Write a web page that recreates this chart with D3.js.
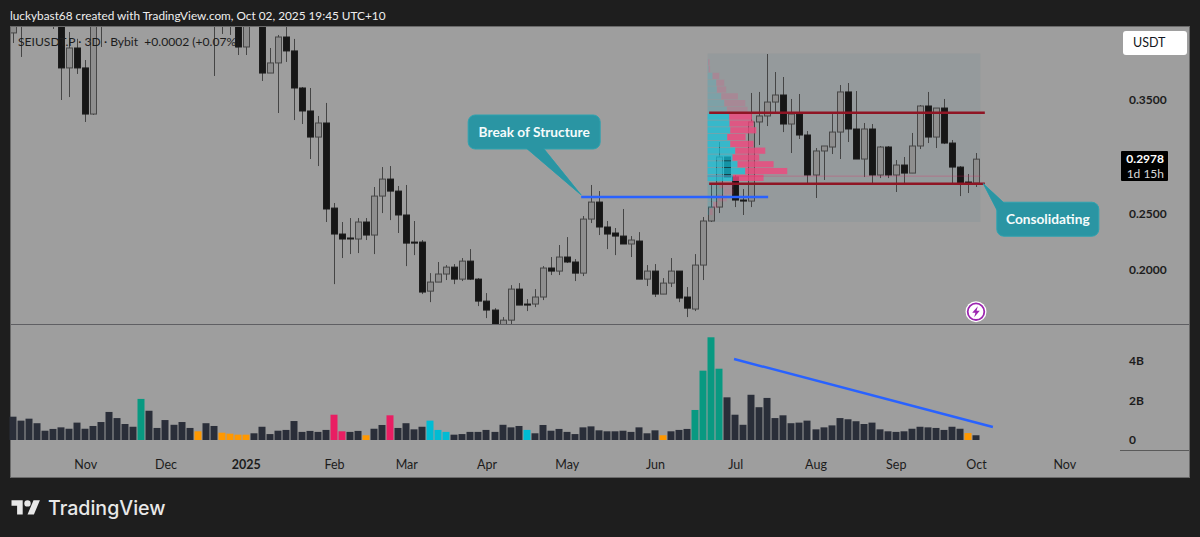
<!DOCTYPE html>
<html>
<head>
<meta charset="utf-8">
<script src="https://cdn.jsdelivr.net/npm/d3@7"></script>
<style>
html, body { margin: 0; padding: 0; background: #1e1e1e; }
svg { display: block; }
text { font-family: Lato, sans-serif; white-space: pre; }
</style>
</head>
<body>
<svg id="chart" width="1200" height="537"></svg>
<script>
// candles, one per 3 days. anything above the pane top is a guess, it gets clipped anyway
var opens = [.4092,.44,.43,.44,.43,.45,.44,.3783,.3959,.3783,
  .3376,.44,.47,.46,.47,.48,.47,.46,.47,.46,
  .47,.46,.45,.46,.45,.44,.44,.43,.43,.3968,
  .44,.43,.3738,.3827,.4056,.3933,.3606,.3403,.3173,.3297,
  .2546,.2317,.2282,.2273,.2423,.2308,.2652,.2802,.2696,.2485,
  .2246,.2246,.1813,.1893,.1964,.2025,.1919,.2078,.1919,.1725,
  .1646,.1504,.1557,.1831,.1699,.1699,.1761,.2017,.1990,.2114,
  .2070,.1972,.2449,.2599,.2379,.2326,.2299,.2229,.2255,.1919,
  .1990,.1787,.1884,.1990,.1761,.1655,.2043,.2432,.2555,.2997,
  .2820,.2617,.2608,.3306,.3359,.3482,.3544,.3288,.3376,.3191,
  .2838,.3050,.3085,.3217,.3571,.3244,.2979,.3244,.2838,.3085,
  .2838,.2926,.2855,.3094,.3447,.3173,.3429,.3120,.2908,.2776,.2767];
var closes = [.428,.425,.44,.43,.45,.44,.3783,.3959,.3783,.3376,
  .44,.46,.46,.47,.48,.47,.46,.47,.46,.47,
  .46,.45,.46,.45,.44,.43,.43,.44,.3968,.43,
  .43,.3738,.3827,.4056,.3933,.3606,.3403,.3173,.3297,.2538,
  .2317,.2273,.2276,.2423,.2308,.2652,.2802,.2696,.2485,.2237,
  .2237,.1805,.1893,.1964,.2025,.1919,.2078,.1919,.1725,.1646,
  .1487,.1557,.1831,.1690,.1690,.1761,.2017,.1990,.2114,.2070,
  .1972,.2449,.2599,.2379,.2317,.2299,.2229,.2264,.1919,.1990,
  .1787,.1884,.1990,.1752,.1663,.2043,.2432,.2555,.2997,.2820,
  .2617,.2608,.3306,.3359,.3482,.3544,.3288,.3376,.3191,.2838,
  .3050,.3094,.3217,.3571,.3244,.2979,.3244,.2838,.3085,.2838,
  .2926,.2855,.3094,.3447,.3173,.3429,.3120,.2908,.2767,.2758,.2978];
var highs = [.44,.45,.45,.45,.46,.47,.45,.41,.404,.3853,
  .45,.47,.48,.48,.49,.49,.48,.48,.48,.48,
  .48,.47,.47,.47,.46,.46,.45,.45,.44,.44,
  .45,.44,.3959,.4074,.42,.4039,.3615,.3606,.3359,.3474,
  .2591,.2423,.2458,.2458,.2458,.2732,.2908,.2917,.2741,.2750,
  .2432,.2264,.1972,.2070,.2043,.2052,.2105,.2184,.1928,.1796,
  .1663,.1584,.1866,.1884,.1743,.1831,.2034,.2114,.2220,.2290,
  .2096,.2476,.2750,.2696,.2432,.2370,.2538,.2299,.2334,.2043,
  .2052,.1928,.2105,.1990,.1849,.2140,.2467,.2767,.3129,.2997,
  .2838,.2714,.3562,.3571,.3906,.3747,.3703,.3509,.3553,.3226,
  .3076,.3094,.3376,.3632,.3650,.3579,.3297,.3288,.3094,.3094,
  .2970,.2997,.3209,.3456,.3571,.3429,.3509,.3147,.2917,.2847,.3032];
var lows = [.4003,.3880,.418,.42,.42,.4127,.3500,.3526,.3730,.3306,
  .3368,.3968,.43,.44,.45,.45,.44,.44,.44,.44,
  .44,.43,.44,.43,.43,.3712,.4083,.4074,.3897,.3897,
  .42,.3668,.3738,.3385,.3836,.3323,.3288,.2979,.2917,.2423,
  .1875,.2105,.2140,.2149,.2264,.2140,.2502,.2440,.2326,.2034,
  .2131,.1787,.1716,.1893,.1911,.1875,.1902,.1911,.1681,.1575,
  .1469,.1469,.1522,.1690,.1637,.1672,.1734,.1955,.1955,.2061,
  .1902,.1946,.2414,.2308,.2184,.2131,.2229,.2114,.1919,.1858,
  .1761,.1787,.1849,.1716,.1584,.1637,.1911,.2423,.2502,.2820,
  .2555,.2485,.2555,.3103,.3270,.3394,.3217,.3032,.3156,.2767,
  .2635,.2794,.3023,.2979,.3129,.2979,.2820,.2767,.2811,.2811,
  .2688,.2767,.2855,.3067,.3120,.3076,.3111,.2767,.2652,.2679,.2732];

// volume in billions
var volumes = [1.18,.98,1.08,.85,.47,.56,.64,.57,.88,.57,.71,.91,1.42,1.11,.81,.67,2.08,1.48,.61,1.01,
  .77,.91,.61,.44,.85,.71,.37,.32,.27,.27,.34,.67,.30,.47,.51,.96,.41,.46,.41,.51,
  1.28,.44,.41,.46,.24,.57,.76,1.25,.61,.85,.54,.67,.98,.51,.41,.27,.30,.41,.41,.51,
  .41,.77,.64,.71,.51,.34,.76,.47,.56,.41,.30,.64,.69,.49,.44,.44,.47,.41,.64,.34,
  .49,.24,.44,.51,.56,1.52,3.51,5.20,3.61,2.16,1.28,.77,2.29,1.66,2.13,1.11,1.25,.85,.88,.98,
  .54,.64,.74,1.11,1.05,.95,.81,.88,.54,.44,.41,.44,.57,.67,.64,.61,.51,.67,.57,.35,.24];
var tealBars = [16,85,86,87,88];
var orangeBars = [23,26,27,28,29,44,81,119];
var pinkBars = [40,41,47];
var cyanBars = [52,53,54,64];

var timeTickBars = [9,19,29,40,49,59,69,80,90,100,110,120,131];
var timeTickLabels = ["Nov","Dec","2025","Feb","Mar","Apr","May","Jun","Jul","Aug","Sep","Oct","Nov"];
var priceTicks = [.35,.25,.2];
var volumeTicks = [4,2,0];
var volumeTickLabels = ["4B","2B","0"];

// fixed range volume profile, one row per price bin
var profilePrices = [.386,.380,.374,.368,.362,.356,.350,.344,.338,.332,.326,.320,.314,.308,.302,.296,.290,.284,.278,.272,.266,.260,.254];
var profileUp = [.5,1,5,8.7,9.3,13.7,16.7,19.3,21.7,22,22.7,19.7,22.7,27.7,25,30,37.7,25.3,12,16,10,5.3,2];
var profileDown = [1.5,1.5,6.7,8,9.3,16.7,21,20.7,22.7,24,26,18.3,23.3,30,26.7,36,42,30.7,14,10,9.3,4.7,3];
var valueAreaFirst = 8, valueAreaLast = 17;
var profileRange = [86.55,120.55];   // bars covered
var profilePriceRange = [.3910,.2423];
var pocPrice = .2828;

var rangeTop = .3388, rangeBottom = .2761, rangeBars = [86.75,121.1];
var bosPrice = .2644, bosBars = [70.8,94.1];
var volTrendBars = [89.85,122.1], volTrendValues = [4.10,.66];

var lastPrice = .2978;

var svg = d3.select("#chart");
var x = d3.scaleLinear().domain([0,120]).range([13,976]);
var y = d3.scaleLinear().domain([.25,.35]).range([213.3,100]);
var vy = d3.scaleLinear().domain([0,4]).range([440,361]);
var profW = d3.scaleLinear().domain([0,100]).range([0,100]);
var bars = d3.range(opens.length);

// outer panel
svg.append("rect").attr("x",0).attr("y",0).attr("width",1200).attr("height",537).attr("fill","#1e1e1e");
svg.append("rect").attr("x",10.5).attr("y",26.5).attr("width",1179).attr("height",451)
  .attr("fill","#9e9e9e").attr("stroke","#6a6a6a");
svg.append("text").attr("x",10).attr("y",20).attr("fill","#eeeeee").style("font-size","11.8px")
  .text("luckybast68 created with TradingView.com, Oct 02, 2025 19:45 UTC+10");

var defs = svg.append("defs");
defs.append("clipPath").attr("id","pane").append("rect").attr("x",11).attr("y",27).attr("width",1178).attr("height",297);

var pane = svg.append("g").attr("clip-path","url(#pane)");

// range shading sits under the candles
pane.append("rect").attr("x",x(profileRange[0])).attr("y",y(profilePriceRange[0]))
  .attr("width",x(profileRange[1])-x(profileRange[0]))
  .attr("height",y(profilePriceRange[1])-y(profilePriceRange[0]))
  .attr("fill","rgba(90,130,150,.13)");

var candle = pane.selectAll(".candle").data(bars).enter().append("g").attr("class","candle");
candle.append("line")
  .attr("x1",function(i){ return Math.round(x(i))+.5; })
  .attr("x2",function(i){ return Math.round(x(i))+.5; })
  .attr("y1",function(i){ return y(highs[i]); })
  .attr("y2",function(i){ return y(lows[i]); })
  .attr("stroke","#454545");
candle.append("rect")
  .attr("x",function(i){ return Math.round(x(i))-2.5; })
  .attr("width",6)
  .attr("y",function(i){ return y(Math.max(opens[i],closes[i])); })
  .attr("height",function(i){ return Math.max(1,Math.abs(y(opens[i])-y(closes[i]))); })
  .attr("fill",function(i){ return closes[i]>opens[i] ? "#8e8e8e" : "#161616"; })
  .attr("stroke",function(i){ return closes[i]>opens[i] ? "#474747" : "#1c1c1c"; });

// volume profile on top of candles
var rowH = y(profilePrices[1])-y(profilePrices[0]);
var rows = pane.selectAll(".vp").data(profilePrices).enter().append("g").attr("class","vp")
  .attr("opacity",function(d,i){ return i>=valueAreaFirst && i<=valueAreaLast ? 1 : .25; });
rows.append("rect").attr("x",x(profileRange[0])).attr("y",function(d){ return y(d); })
  .attr("width",function(d,i){ return profW(profileUp[i]); }).attr("height",rowH-.6)
  .attr("fill","rgba(20,195,220,.72)");
rows.append("rect").attr("x",function(d,i){ return x(profileRange[0])+profW(profileUp[i]); })
  .attr("y",function(d){ return y(d); })
  .attr("width",function(d,i){ return profW(profileDown[i]); }).attr("height",rowH-.6)
  .attr("fill","rgba(240,70,125,.8)");
pane.append("line").attr("x1",x(profileRange[0])).attr("x2",x(profileRange[1]))
  .attr("y1",y(pocPrice)).attr("y2",y(pocPrice)).attr("stroke","rgba(233,30,99,.3)");

// drawn levels
pane.append("line").attr("x1",x(bosBars[0])).attr("x2",x(bosBars[1])).attr("y1",y(bosPrice)).attr("y2",y(bosPrice))
  .attr("stroke","#2962ff").attr("stroke-width",2.6);
[rangeTop,rangeBottom].forEach(function(p){
  pane.append("line").attr("x1",x(rangeBars[0])).attr("x2",x(rangeBars[1])).attr("y1",y(p)).attr("y2",y(p))
    .attr("stroke","#8f1524").attr("stroke-width",2.6);
});

// callouts, box placed relative to the tip
function callout(tipX, tipY, bx, by, bw, bh, basePts, label){
  var g = svg.append("g");
  var stroke = "#2fa3b0", fill = "#2a95a3";
  g.append("path").attr("d","M"+basePts[0]+"L"+tipX+","+tipY+"L"+basePts[1]+"Z").attr("fill",fill).attr("stroke",stroke);
  g.append("rect").attr("x",bx).attr("y",by).attr("width",bw).attr("height",bh).attr("rx",7)
    .attr("fill",fill).attr("stroke",stroke);
  g.append("path").attr("d","M"+basePts[0]+"L"+tipX+","+tipY+"L"+basePts[1]+"Z").attr("fill",fill);
  g.append("text").attr("x",bx+bw/2).attr("y",by+bh/2+5).attr("text-anchor","middle")
    .attr("fill","#f5fbfb").style("font-size","13.7px").style("font-weight","700").text(label);
}
var t1x = x(bosBars[0]), t1y = y(bosPrice)-2;
callout(t1x,t1y,t1x-113,t1y-80,132,34,[[t1x-55,t1y-47],[t1x-38,t1y-47]],"Break of Structure");
var t2x = x(rangeBars[1])-1.5, t2y = y(rangeBottom);
callout(t2x,t2y,t2x+13.5,t2y+18.5,102,34,[[t2x+21,t2y+19.5],[t2x+14,t2y+27]],"Consolidating");

// volume pane
svg.append("line").attr("x1",11).attr("x2",1189).attr("y1",324.5).attr("y2",324.5).attr("stroke","#5f5f63");
var barColor = function(i){
  if (tealBars.indexOf(i)>=0) return "#089981";
  if (orangeBars.indexOf(i)>=0) return "#ff9800";
  if (pinkBars.indexOf(i)>=0) return "#e91e63";
  if (cyanBars.indexOf(i)>=0) return "#00bcd4";
  return "#2a2e39";
};
svg.selectAll(".vol").data(bars).enter().append("rect").attr("class","vol")
  .attr("x",function(i){ return Math.round(x(i))-3.5; })
  .attr("width",7)
  .attr("y",function(i){ return vy(volumes[i]); })
  .attr("height",function(i){ return vy(0)-vy(volumes[i]); })
  .attr("fill",function(i){ return barColor(i); });
svg.append("line").attr("x1",x(volTrendBars[0])).attr("x2",x(volTrendBars[1]))
  .attr("y1",vy(volTrendValues[0])).attr("y2",vy(volTrendValues[1]))
  .attr("stroke","#2962ff").attr("stroke-width",2.4);

// axes
var timeAxis = d3.axisBottom(x).tickValues(timeTickBars).tickSize(0).tickPadding(0)
  .tickFormat(function(d,i){ return timeTickLabels[i]; });
var gx = svg.append("g").attr("transform","translate(0,460)").call(timeAxis);
gx.select(".domain").remove();
gx.selectAll("text").attr("fill","#1c1c1c").style("font-size","12.5px")
  .style("font-family","Lato, sans-serif")
  .style("font-weight",function(d,i){ return timeTickLabels[i]==="2025" ? 700 : 400; });

var gy = svg.append("g").attr("transform","translate(1129,0)")
  .call(d3.axisRight(y).tickValues(priceTicks).tickSize(0).tickPadding(0).tickFormat(d3.format(".4f")));
gy.select(".domain").remove();
gy.selectAll("text").attr("fill","#1c1c1c").style("font-size","12px").style("font-weight",700)
  .style("font-family","Lato, sans-serif");

var gv = svg.append("g").attr("transform","translate(1129,0)")
  .call(d3.axisRight(vy).tickValues(volumeTicks).tickSize(0).tickPadding(0)
    .tickFormat(function(d,i){ return volumeTickLabels[i]; }));
gv.select(".domain").remove();
gv.selectAll("text").attr("fill","#1c1c1c").style("font-size","12px").style("font-weight",700)
  .style("font-family","Lato, sans-serif");

// the price scale column has its own bottom rule
svg.append("line").attr("x1",1120).attr("x2",1189).attr("y1",450.5).attr("y2",450.5).attr("stroke","#5a5a5a");

// legend
svg.append("text").attr("x",18).attr("y",46).attr("fill","#1c1c1c").style("font-size","12.1px")
  .text("SEIUSDT.P · 3D · Bybit  +0.0002 (+0.07%)");

// currency button
svg.append("rect").attr("x",1123).attr("y",31).attr("width",64).attr("height",24).attr("rx",3).attr("fill","#ffffff");
svg.append("text").attr("x",1133).attr("y",47).attr("fill","#131722").style("font-size","12.5px").text("USDT");

// last price tag
svg.append("rect").attr("x",1121).attr("y",151).attr("width",47).attr("height",30).attr("rx",1).attr("fill","#000000");
svg.append("text").attr("x",1164).attr("y",y(lastPrice)+4).attr("text-anchor","end").attr("fill","#ffffff")
  .style("font-size","12px").style("font-weight",700).text(d3.format(".4f")(lastPrice));
svg.append("text").attr("x",1164).attr("y",177.5).attr("text-anchor","end").attr("fill","#d8d8d8")
  .style("font-size","12px").text("1d 15h");

// bolt badge
var badge = svg.append("g").attr("transform","translate(976,311.7)");
badge.append("circle").attr("r",10.5).attr("fill","#ffffff");
badge.append("circle").attr("r",8.3).attr("fill","none").attr("stroke","#9c27b0").attr("stroke-width",1.8);
badge.append("path").attr("d","M1.8,-5.5L-3.8,1H-.6L-1.8,5.5L3.8,-1H.6Z").attr("fill","#9c27b0");

// logo
var logo = svg.append("g").attr("transform","translate(11.5,497) scale(.8)");
logo.append("path").attr("d","M14 22H7V11H0V4h14v18zM28 22h-8l7.5-18h8L28 22z").attr("fill","#e8e8e8");
logo.append("circle").attr("cx",20).attr("cy",8).attr("r",4).attr("fill","#e8e8e8");
svg.append("text").attr("x",48).attr("y",515).attr("fill","#e8e8e8").style("font-size","19.6px").style("font-weight",500)
  .style("font-family","Inter, sans-serif").text("TradingView");
</script>
</body>
</html>
